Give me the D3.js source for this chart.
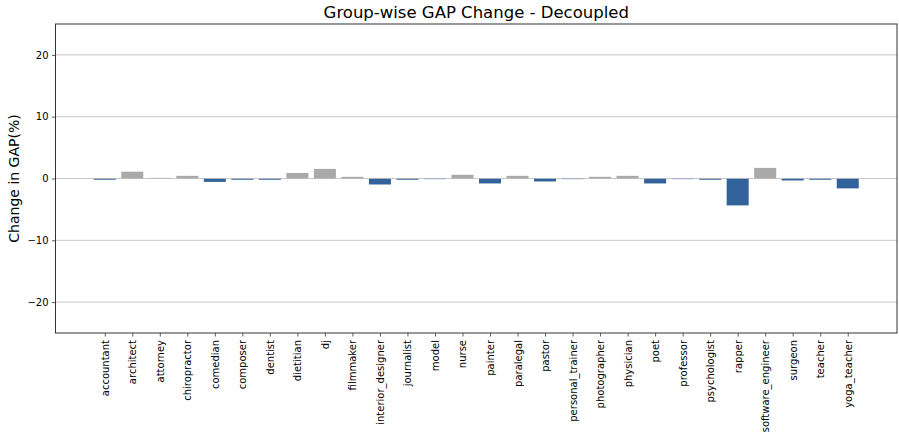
<!DOCTYPE html>
<html>
<head>
<meta charset="utf-8">
<script src="https://cdn.jsdelivr.net/npm/d3@7"></script>
<style>
  body { margin: 0; background: #fff; }
  svg text { font-family: "DejaVu Sans", sans-serif; }
</style>
</head>
<body>
<div id="chart"></div>
<script>
// groups and their GAP change (%)
var groups = ["accountant", "architect", "attorney", "chiropractor", "comedian", "composer",
  "dentist", "dietitian", "dj", "filmmaker", "interior_designer", "journalist", "model",
  "nurse", "painter", "paralegal", "pastor", "personal_trainer", "photographer", "physician",
  "poet", "professor", "psychologist", "rapper", "software_engineer", "surgeon", "teacher",
  "yoga_teacher"];
var gapChange = [-0.2, 1.1, 0.1, 0.43, -0.55, -0.2, -0.2, 0.9, 1.55, 0.27, -0.97, -0.2, -0.1,
  0.6, -0.8, 0.43, -0.48, -0.1, 0.27, 0.43, -0.8, -0.1, -0.2, -4.35, 1.72, -0.32, -0.2, -1.6];
var yTicks = [-20, -10, 0, 10, 20];

var margin = {top: 24, right: 2, bottom: 107, left: 55.5};
var width = 899 - margin.left - margin.right;
var height = 440 - margin.top - margin.bottom;

var svg = d3.select("#chart")
    .append("svg")
    .attr("width", 899)
    .attr("height", 440)
    .append("g")
    .attr("transform", "translate(" + margin.left + "," + margin.top + ")");

// matplotlib-like x limits: bars 0.8 wide, 5% margins
var n = groups.length;
var lo = -0.4, hi = n - 1 + 0.4, pad = (hi - lo) * 0.05;
var xScale = d3.scaleLinear()
    .domain([lo - pad, hi + pad])
    .range([0, width]);

var yScale = d3.scaleLinear()
    .domain([-25, 25])
    .range([height, 0]);

// bars
svg.selectAll(".bar")
    .data(gapChange)
    .enter()
    .append("rect")
    .attr("class", "bar")
    .attr("x", function(d, i) { return xScale(i - 0.4); })
    .attr("width", xScale(0.8) - xScale(0))
    .attr("y", function(d) { return yScale(Math.max(d, 0)); })
    .attr("height", function(d) { return Math.abs(yScale(d) - yScale(0)); })
    .attr("fill", function(d) { return d < 0 ? "#31629b" : "#a9a9a9"; });

// grid on top
svg.selectAll(".grid")
    .data(yTicks)
    .enter()
    .append("line")
    .attr("x1", 0)
    .attr("x2", width)
    .attr("y1", function(d) { return yScale(d); })
    .attr("y2", function(d) { return yScale(d); })
    .attr("stroke", "#b0b0b0")
    .attr("stroke-opacity", 0.7)
    .attr("stroke-width", 1);

// y axis
var yAxis = svg.append("g")
    .call(d3.axisLeft(yScale).tickValues(yTicks).tickSize(3.5).tickPadding(3.5)
      .tickFormat(function(d) { return d < 0 ? "\u2212" + Math.abs(d) : d; }));

// x axis
var xAxis = svg.append("g")
    .attr("transform", "translate(0," + height + ")")
    .call(d3.axisBottom(xScale).tickValues(d3.range(n)).tickSize(3.5).tickPadding(3.5)
      .tickFormat(function(i) { return groups[i]; }));

xAxis.selectAll("text")
    .attr("transform", "rotate(-90)")
    .attr("x", -7)
    .attr("y", 0)
    .attr("dy", "0.35em")
    .style("text-anchor", "end");

[xAxis, yAxis].forEach(function(a) {
  a.select(".domain").remove();
  a.selectAll(".tick line").attr("stroke", "#333").attr("stroke-width", 0.8);
  a.selectAll("text").attr("font-size", 10).attr("fill", "#000")
    .style("font-family", "DejaVu Sans, sans-serif");
});

// frame
svg.append("rect")
    .attr("width", width)
    .attr("height", height)
    .attr("fill", "none")
    .attr("stroke", "#333")
    .attr("stroke-width", 1);

// title and label
svg.append("text")
    .attr("x", width / 2)
    .attr("y", -6)
    .attr("text-anchor", "middle")
    .attr("font-size", 16.5)
    .text("Group-wise GAP Change - Decoupled");

svg.append("text")
    .attr("transform", "rotate(-90)")
    .attr("x", -height / 2)
    .attr("y", -37)
    .attr("text-anchor", "middle")
    .attr("font-size", 14)
    .text("Change in GAP(%)");
</script>
</body>
</html>
